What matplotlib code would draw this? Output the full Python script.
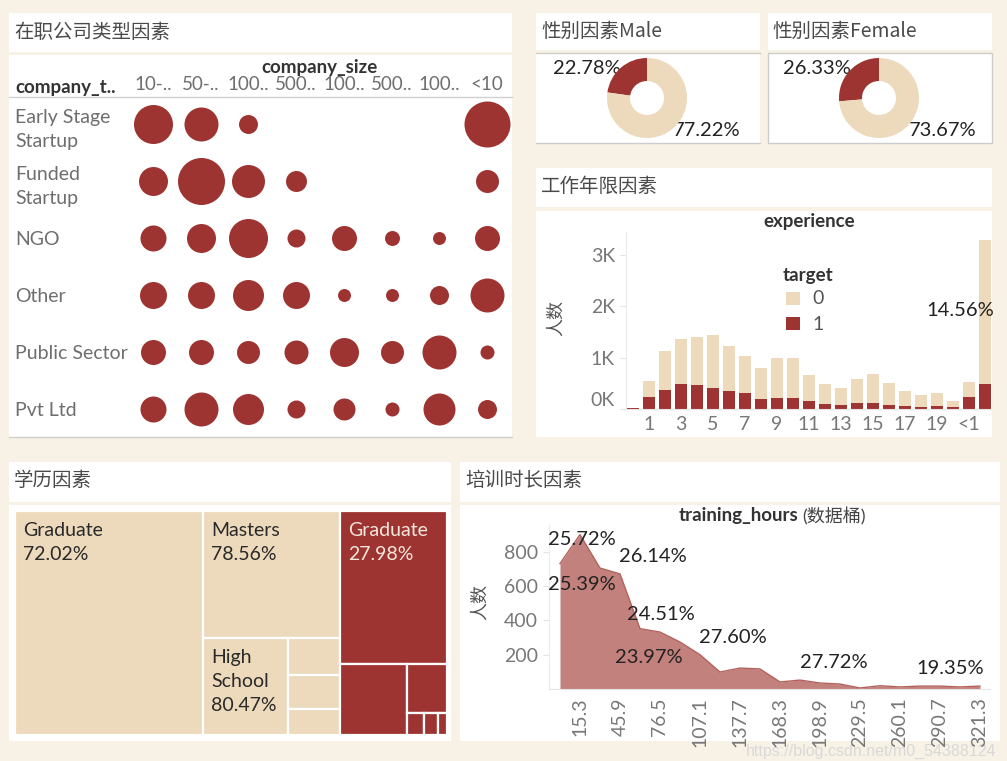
import numpy as np
import matplotlib
matplotlib.use("Agg")
import matplotlib.pyplot as plt
from matplotlib.patches import Rectangle

plt.rcParams['font.family'] = ['Lato', 'Noto Sans CJK SC', 'DejaVu Sans']

# ---------------- data ----------------
company_types = ["Early Stage\nStartup", "Funded\nStartup", "NGO", "Other", "Public Sector", "Pvt Ltd"]
company_sizes = ["10-..", "50-..", "100..", "500..", "100..", "500..", "100..", "<10"]
early_stage = [760, 578, 180, 0, 0, 0, 0, 1058]
funded = [420, 1104, 544, 220, 0, 0, 0, 264]
ngo = [338, 420, 760, 162, 312, 112, 84, 312]
other = [364, 364, 480, 364, 84, 84, 180, 578]
public_sector = [312, 312, 264, 288, 420, 264, 578, 98]
pvt_ltd = [338, 578, 480, 162, 242, 98, 512, 180]

male_pct = [22.78, 77.22]     # target 1, target 0
female_pct = [26.33, 73.67]

exp_cats = ["Null"] + [str(i) for i in range(1, 21)] + ["<1", ">20"]
exp_one = [15, 227, 363, 480, 461, 403, 344, 305, 188, 208, 208, 149, 91, 71, 110, 110,
           71, 52, 32, 52, 32, 227, 478]
exp_zero = [5, 312, 760, 877, 935, 1032, 877, 721, 604, 779, 779, 507, 389, 332, 468, 565,
            429, 292, 234, 253, 117, 292, 2806]
exp_label_pct = 14.56

edu_levels = ["Graduate", "Masters", "High School", "Null", "Phd", "Primary School"]
edu_zero = [8353, 3426, 1623, 386, 356, 268]
edu_one = [3245, 935, 394, 74, 58, 40]

hours = [0, 15.3, 30.6, 45.9, 61.2, 76.5, 91.8, 107.1, 122.4, 137.7, 153.0, 168.3,
         183.6, 198.9, 214.2, 229.5, 244.8, 260.1, 275.4, 290.7, 306.0, 321.3]
hours_count = [731, 900, 705, 671, 352, 332, 274, 200, 99, 122, 117, 41,
               52, 35, 29, 6, 19, 12, 17, 17, 12, 17]
hours_tick_labels = ["15.3", "45.9", "76.5", "107.1", "137.7", "168.3", "198.9",
                     "229.5", "260.1", "290.7", "321.3"]
hours_pct = [25.72, 26.14, 25.39, 24.51, 27.60, 23.97, 27.72, 19.35]
hours_pct_pos = [(16.8, 869), (71.1, 770), (16.8, 612), (77.3, 437), (132.3, 303),
                 (68.1, 181), (209.6, 152), (298.4, 117)]

# ---------------- style ----------------
W, H = 1007, 761
CREAM = '#f8f2e6'
BEIGE = '#edd9bb'
RED = '#9e3431'
AREA = '#c2817d'
GREY_T = '#6e6e6e'
TITLE_C = '#4a4a4a'
FS = 14          # general label size
FS_PCT = 14.5    # percent labels
FS_B = 13.5      # bold headers

fig = plt.figure(figsize=(W / 100, H / 100), dpi=100, facecolor=CREAM)
bg = fig.add_axes([0, 0, 1, 1], zorder=0)
bg.set_xlim(0, W)
bg.set_ylim(H, 0)
bg.axis('off')


def px_axes(x0, y0, x1, y1, **kw):
    a = fig.add_axes([x0 / W, 1 - y1 / H, (x1 - x0) / W, (y1 - y0) / H], zorder=2, **kw)
    a.set_facecolor('none')
    return a


def box(x0, y0, x1, y1, ec=None):
    bg.add_patch(Rectangle((x0, y0), x1 - x0, y1 - y0, fc='white',
                           ec=ec if ec else 'none', lw=1 if ec else 0))


def title(x, y, s):
    bg.text(x, y, s, fontsize=14, color=TITLE_C, va='center', ha='left',
            family=['Noto Sans CJK SC', 'DejaVu Sans'])


# panels
box(9, 13, 512, 52); box(9, 55, 512, 437)
bg.plot([9, 512], [437, 437], color='#d0d0d0', lw=1)
box(536, 13, 760, 50); box(536, 53, 760, 143)
bg.plot([536, 760], [53, 53], color='#cccccc', lw=1)
bg.plot([536, 760], [143, 143], color='#cccccc', lw=1)
box(768, 13, 992, 50); box(768, 53, 992, 143, ec='#cccccc')
box(536, 168, 992, 207); box(536, 211, 992, 437)
box(9, 462, 451, 502); box(9, 505, 451, 741)
box(460, 462, 1000, 502); box(460, 505, 1000, 741)

title(14, 32, "在职公司类型因素")
title(541, 31, "性别因素Male")
title(772, 31, "性别因素Female")
title(541, 187, "工作年限因素")
title(14, 481, "学历因素")
title(465, 481, "培训时长因素")

# ---------------- company bubble chart ----------------
bg.plot([9, 512], [97, 97], color='#d0d0d0', lw=1)
bg.text(15, 87, "company_t..", fontsize=FS_B, weight='bold', color='#333', va='center')
bg.text(320, 67, "company_size", fontsize=FS_B, weight='bold', color='#333', va='center', ha='center')
axc = px_axes(129, 95.5, 511, 437.5)
rows = [early_stage, funded, ngo, other, public_sector, pvt_ltd]
maxc = max(max(r) for r in rows)
for ri, r in enumerate(rows):
    for ci, v in enumerate(r):
        if v > 0:
            d_px = 47 * np.sqrt(v / maxc)
            axc.scatter(ci, ri, s=(d_px * 0.72) ** 2, color=RED, lw=0)
axc.set_xlim(-0.5, len(company_sizes) - 0.5)
axc.set_ylim(len(company_types) - 0.5, -0.5)
axc.xaxis.tick_top()
axc.set_xticks(range(len(company_sizes)))
axc.set_xticklabels(company_sizes, fontsize=13.5, color=GREY_T)
axc.tick_params(axis='x', length=0, pad=1.5)
axc.set_yticks(range(len(company_types)))
axc.set_yticklabels(company_types, fontsize=FS, color=GREY_T, ha='left', linespacing=1.55)
axc.tick_params(axis='y', length=0, pad=(129 - 15) * 0.72)
for s in axc.spines.values():
    s.set_visible(False)

# ---------------- donuts ----------------
def donut(cx, cy, pct, lab_off):
    a = px_axes(cx - 45, cy - 45, cx + 45, cy + 45)
    a.pie(pct, colors=[RED, BEIGE], startangle=90, counterclock=True, radius=40 / 45,
          wedgeprops=dict(width=23 / 45, lw=0))
    a.set_xlim(-1, 1); a.set_ylim(-1, 1)
    a.set_aspect('equal')
    a.axis('off')
    for p, (dx, dy) in zip(pct, lab_off):
        bg.text(cx + dx, cy + dy, f"{p:.2f}%", fontsize=FS_PCT, color='#222',
                ha='center', va='center', zorder=5)

donut(647, 98, male_pct, [(-60, -30), (60, 32)])
donut(879, 98, female_pct, [(-62, -30), (64, 32)])

# ---------------- experience ----------------
axe = px_axes(626, 232, 991, 409)
xe = np.arange(len(exp_cats))
axe.bar(xe, exp_one, width=0.75, color=RED, lw=0)
axe.bar(xe, exp_zero, bottom=exp_one, width=0.75, color=BEIGE, lw=0)
axe.set_xlim(-0.44, 22.375)
axe.set_ylim(0, 3437)
axe.set_yticks([0, 1000, 2000, 3000])
axe.set_yticklabels(["0K", "1K", "2K", "3K"], fontsize=FS, color='#777')
axe.yaxis.get_major_ticks()[0].label1.set_verticalalignment('bottom')
axe.tick_params(axis='y', length=4, color='#e4e4e4', pad=4)
axe.set_xticks(xe[1::2])
axe.set_xticklabels(exp_cats[1::2], fontsize=FS, color='#777')
axe.tick_params(axis='x', length=0, pad=5)
for k in ['top', 'right']:
    axe.spines[k].set_visible(False)
axe.spines['left'].set_color('#ececec')
axe.spines['bottom'].set_color('#e4e4e4')
bg.text(809, 222, "experience", fontsize=FS_B, weight='bold', color='#333', ha='center', va='center')
bg.text(556, 318, "人数", fontsize=13, color='#555', rotation=90, ha='center', va='center')
bg.text(808, 275, "target", fontsize=FS_B, weight='bold', color='#333', ha='center', va='center')
bg.add_patch(Rectangle((786, 292), 14, 13, fc=BEIGE, lw=0, zorder=3))
bg.add_patch(Rectangle((786, 317), 14, 13, fc=RED, lw=0, zorder=3))
bg.text(812, 299, "0", fontsize=FS, color='#555', va='center')
bg.text(812, 324, "1", fontsize=FS, color='#555', va='center')
axe.text(20.45, 1915, f"{exp_label_pct:.2f}%", fontsize=FS_PCT, color='#222',
         ha='center', va='center')

# ---------------- education treemap ----------------
def worst(row, length):
    s = sum(row)
    return max(max(length ** 2 * r / s ** 2, s ** 2 / (length ** 2 * r)) for r in row)


def squarify(areas, x, y, w, h):
    rects = []
    areas = list(areas)
    while areas:
        length = min(w, h)
        row = [areas[0]]
        i = 1
        while i < len(areas) and worst(row + [areas[i]], length) <= worst(row, length):
            row.append(areas[i]); i += 1
        s = sum(row)
        if w >= h:
            cw = s / h; yy = y
            for r in row:
                rects.append((x, yy, cw, r / cw)); yy += r / cw
            x += cw; w -= cw
        else:
            rh = s / w; xx = x
            for r in row:
                rects.append((xx, y, r / rh, rh)); xx += r / rh
            y += rh; h -= rh
        areas = areas[i:]
    return rects

TW, TH = 432, 224
axt = px_axes(15, 511, 15 + TW, 511 + TH)
axt.set_xlim(0, TW); axt.set_ylim(TH, 0); axt.axis('off')
tot0, tot1 = sum(edu_zero), sum(edu_one)
w0 = TW * tot0 / (tot0 + tot1)
groups = [(edu_zero, 0, w0, BEIGE, '#2a2a2a'), (edu_one, w0, TW - w0, RED, '#f6e8dc')]
for vals, gx, gw, col, tc in groups:
    order = np.argsort(vals)[::-1]
    areas = [vals[i] / sum(vals) * gw * TH for i in order]
    for (rx, ry, rw, rh), idx in zip(squarify(areas, gx, 0, gw, TH), order):
        axt.add_patch(Rectangle((rx, ry), rw, rh, fc=col, ec='white', lw=1.6))
        if rw > 75 and rh > 75:
            name = edu_levels[idx]
            if rw < 100:
                name = name.replace(' ', '\n')
            share = vals[idx] / (edu_zero[idx] + edu_one[idx]) * 100
            axt.text(rx + 8, ry + 11, f"{name}\n{share:.2f}%", fontsize=FS, color=tc,
                     ha='left', va='top', linespacing=1.5)

# ---------------- training hours ----------------
axh = px_axes(549, 525, 990, 689)
axh.fill_between(hours, hours_count, color=AREA, lw=0)
axh.plot(hours, hours_count, color='#b4625d', lw=1)
axh.set_xlim(-8.4, 329)
axh.set_ylim(0, 956)
axh.set_yticks([200, 400, 600, 800])
axh.set_yticklabels(["200", "400", "600", "800"], fontsize=FS, color='#777')
axh.tick_params(axis='y', length=4, color='#e4e4e4', pad=4)
axh.set_xticks(hours[1::2])
axh.set_xticklabels(hours_tick_labels, rotation=90, fontsize=FS, color='#777')
axh.tick_params(axis='x', length=0, pad=6)
for k in ['top', 'right']:
    axh.spines[k].set_visible(False)
axh.spines['left'].set_color('#ececec')
axh.spines['bottom'].set_color('#e4e4e4')
for p, (px, py) in zip(hours_pct, hours_pct_pos):
    axh.text(px, py, f"{p:.2f}%", fontsize=FS_PCT, color='#222', ha='center', va='center')
bg.text(798, 516, "training_hours", fontsize=FS_B, weight='bold', color='#333', ha='right', va='center')
bg.text(802, 516, "(数据桶)", fontsize=13, color='#444', ha='left', va='center')
bg.text(480, 602, "人数", fontsize=13, color='#555', rotation=90, ha='center', va='center')

bg.text(996, 751, "https://blog.csdn.net/m0_54388124", fontsize=11.5, color='#d9d9d9',
        family='Liberation Sans', ha='right', va='center', zorder=10)

fig.savefig("out.png", dpi=100, facecolor=CREAM)
